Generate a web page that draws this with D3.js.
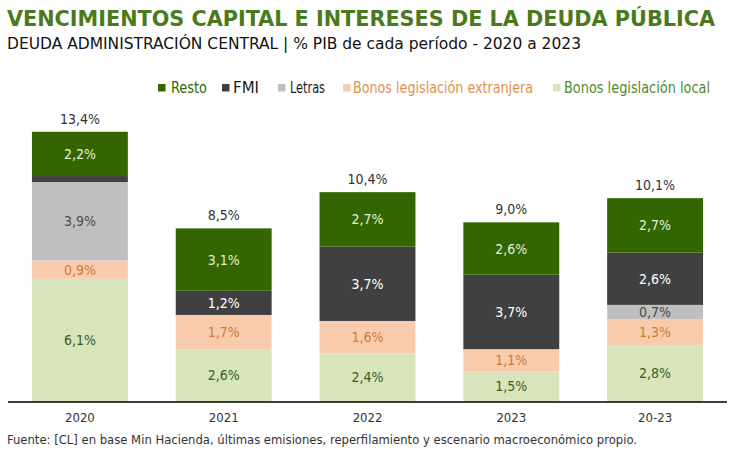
<!DOCTYPE html>
<html><head><meta charset="utf-8">
<script src="https://cdn.jsdelivr.net/npm/d3@7/dist/d3.min.js"></script>
<style>body{margin:0;background:#fff}svg{display:block}text{font-family:"DejaVu Sans Condensed","DejaVu Sans",sans-serif}</style>
</head><body>
<script>
const categories = ["2020","2021","2022","2023","20-23"];
const seriesNames = ["Bonos legislación local","Bonos legislación extranjera","Letras","FMI","Resto"];
const bonosLocal = [6.1, 2.6, 2.4, 1.5, 2.8];
const bonosExt   = [0.9, 1.7, 1.6, 1.1, 1.3];
const letras     = [3.9, 0.0, 0.0, 0.0, 0.7];
const fmi        = [0.3, 1.2, 3.7, 3.7, 2.6];
const resto      = [2.2, 3.1, 2.7, 2.6, 2.7];
const totals     = ["13,4%","8,5%","10,4%","9,0%","10,1%"];

const fills = ["#d8e4bc","#f8cbad","#bfbfbf","#404040","#336600"];
const labelColors = ["#3b5e1a","#d07a38","#4a4a4a","#ffffff","#e2f0d9"];
const legendTextColors = ["#4e8b2f","#e0914f","#1a1a1a","#1a1a1a","#336600"];

const W = 750, H = 451;
const svg = d3.select("body").append("svg").attr("width", W).attr("height", H);

const x = d3.scaleBand().domain(categories).range([8, 727]).paddingInner(0.333).paddingOuter(0.1665);
const y = d3.scaleLinear().domain([0, 14]).range([401.5, 401.5 - 14 * 20.13]);

const table = categories.map((c, i) => ({cat: c,
  "Bonos legislación local": bonosLocal[i], "Bonos legislación extranjera": bonosExt[i],
  "Letras": letras[i], "FMI": fmi[i], "Resto": resto[i]}));
const stacked = d3.stack().keys(seriesNames)(table);

const fmt = v => v.toFixed(1).replace(".", ",") + "%";

stacked.forEach((layer, si) => {
  const g = svg.append("g");
  g.selectAll("rect").data(layer).join("rect")
    .attr("x", d => x(d.data.cat)).attr("width", x.bandwidth())
    .attr("y", d => y(d[1])).attr("height", d => y(d[0]) - y(d[1]))
    .attr("fill", fills[si]);
  g.selectAll("text").data(layer.filter(d => d[1] - d[0] >= 0.5)).join("text")
    .attr("x", d => x(d.data.cat) + x.bandwidth() / 2)
    .attr("y", d => (y(d[0]) + y(d[1])) / 2 + 5)
    .attr("text-anchor", "middle").attr("font-size", 14)
    .attr("fill", labelColors[si])
    .text(d => fmt(d[1] - d[0]));
});

// totals
const topLayer = stacked[stacked.length - 1];
svg.append("g").selectAll("text").data(topLayer).join("text")
  .attr("x", d => x(d.data.cat) + x.bandwidth() / 2)
  .attr("y", d => y(d[1]) - 8)
  .attr("text-anchor", "middle").attr("font-size", 14).attr("fill", "#333")
  .text((d, i) => totals[i]);

// axis
const axis = svg.append("g").attr("transform", `translate(0,${y(0) + 0.5})`)
  .call(d3.axisBottom(x).tickSize(0).tickPadding(11));
axis.select(".domain").attr("stroke", "#000").attr("stroke-width", 1.5).attr("d", "M8,0H727");
axis.selectAll("text").attr("font-size", 13).attr("fill", "#333")
  .attr("font-family", '"DejaVu Sans Condensed","DejaVu Sans",sans-serif');

// title
svg.append("text").attr("x", 7).attr("y", 26).attr("font-size", 22).attr("font-weight", "bold")
  .attr("fill", "#4a7a1c").attr("textLength", 708).attr("lengthAdjust", "spacingAndGlyphs")
  .text("VENCIMIENTOS CAPITAL E INTERESES DE LA DEUDA PÚBLICA");
svg.append("text").attr("x", 7).attr("y", 49).attr("font-size", 16).attr("fill", "#111")
  .attr("textLength", 574).attr("lengthAdjust", "spacingAndGlyphs")
  .text("DEUDA ADMINISTRACIÓN CENTRAL | % PIB de cada período - 2020 a 2023");

// legend
const legendItems = [
  {name: "Resto", si: 4, sx: 158, tx: 171, tl: 36},
  {name: "FMI", si: 3, sx: 222, tx: 233, tl: 26},
  {name: "Letras", si: 2, sx: 278, tx: 290, tl: 35},
  {name: "Bonos legislación extranjera", si: 1, sx: 343, tx: 353, tl: 180},
  {name: "Bonos legislación local", si: 0, sx: 553, tx: 564, tl: 146}
];
const lg = svg.append("g");
lg.selectAll("rect").data(legendItems).join("rect")
  .attr("x", d => d.sx).attr("y", 84).attr("width", 7.5).attr("height", 7.5)
  .attr("fill", d => fills[d.si]);
lg.selectAll("text").data(legendItems).join("text")
  .attr("x", d => d.tx).attr("y", 93).attr("font-size", 15)
  .attr("fill", d => legendTextColors[d.si])
  .attr("textLength", d => d.tl).attr("lengthAdjust", "spacingAndGlyphs")
  .text(d => d.name);

// footnote
svg.append("text").attr("x", 7).attr("y", 444).attr("font-size", 12).attr("fill", "#333")
  .attr("textLength", 630).attr("lengthAdjust", "spacingAndGlyphs")
  .text("Fuente: [CL] en base Min Hacienda, últimas emisiones, reperfilamiento y escenario macroeconómico propio.");
</script>
</body></html>
